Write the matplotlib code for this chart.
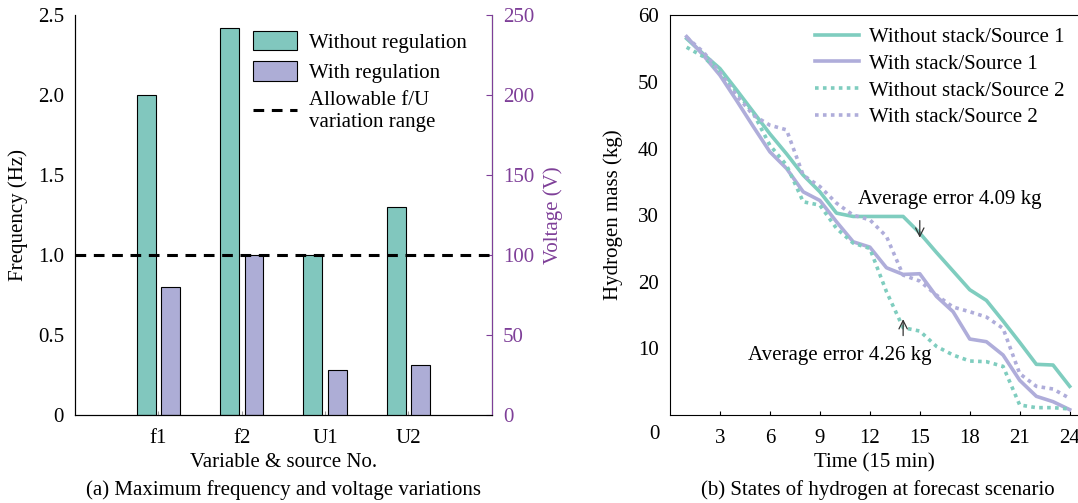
import matplotlib
matplotlib.use("Agg")
import matplotlib.pyplot as plt
import numpy as np

plt.rcParams["font.family"] = ["Liberation Serif", "DejaVu Serif"]
plt.rcParams["font.size"] = 15

TEAL = "#81C7BE"
PURPLE = "#ADADD6"
TEAL_LINE = "#7FCDBF"
PURPLE_LINE = "#AFADDA"
AXIS_PURPLE = "#7E3F98"

# (a) bar data
freq_cats = ["f1", "f2"]
freq_without = [2.0, 2.42]
freq_with = [0.8, 1.0]
volt_cats = ["U1", "U2"]
volt_without = [100, 130]
volt_with = [28, 31]
allowable_freq = 1.0

# (b) hydrogen mass, one point per 15 min step
steps = list(range(1, 25))
without_src1 = [56.5, 54.2, 52.0, 48.8, 45.5, 42.2, 39.2, 36.0, 33.5, 30.3,
                29.8, 29.8, 29.8, 29.8, 27.3, 24.4, 21.6, 18.8, 17.2, 14.1,
                10.9, 7.6, 7.5, 4.3]
with_src1 = [56.8, 54.0, 51.0, 47.2, 43.3, 39.5, 37.0, 33.5, 32.2, 29.0,
             26.0, 25.2, 22.1, 21.1, 21.2, 17.8, 15.5, 11.4, 11.0, 9.0,
             5.2, 2.8, 2.0, 0.8]
without_src2 = [55.2, 53.8, 51.5, 48.5, 45.3, 40.5, 37.5, 32.0, 31.5, 28.0,
                25.8, 25.0, 18.5, 13.1, 12.6, 10.3, 9.0, 8.1, 8.0, 7.3,
                1.5, 1.1, 1.1, 0.9]
with_src2 = [56.7, 54.5, 51.5, 48.0, 45.0, 43.5, 42.8, 36.0, 34.3, 31.8,
             30.0, 29.3, 26.8, 21.0, 20.1, 18.0, 16.2, 15.5, 14.7, 13.0,
             6.2, 4.3, 3.9, 2.5]
time_ticks = [3, 6, 9, 12, 15, 18, 21, 24]

fig = plt.figure(figsize=(10.78, 5.03), dpi=100)


def center_label(label):
    label.set_va("center")
    label.set_ha("center")


# ---- (a) ----
ax = fig.add_axes([0.0696, 0.175, 0.3866, 0.7946])
ax2 = ax.twinx()
w = 0.227
off = 0.147
xf = np.arange(1, len(freq_cats) + 1)
xu = np.arange(len(freq_cats) + 1, len(freq_cats) + len(volt_cats) + 1)
b1 = ax.bar(xf - off, freq_without, w, color=TEAL, edgecolor="black", linewidth=0.8,
            label="Without regulation")
b2 = ax.bar(xf + off, freq_with, w, color=PURPLE, edgecolor="black", linewidth=0.8,
            label="With regulation")
ax2.bar(xu - off, volt_without, w, color=TEAL, edgecolor="black", linewidth=0.8)
ax2.bar(xu + off, volt_with, w, color=PURPLE, edgecolor="black", linewidth=0.8)
ln = ax2.axhline(allowable_freq * 100, color="black", linestyle=(0, (3.5, 2.5)),
                 linewidth=2.2, label="Allowable f/U\nvariation range")

ax.set_xlim(0, 5)
ax.set_ylim(0, 2.5)
ax2.set_ylim(0, 250)
ax.set_xticks(list(xf) + list(xu))
ax.set_xticklabels(freq_cats + volt_cats)
ax.set_yticks([0, 0.5, 1.0, 1.5, 2.0, 2.5])
ax.set_yticklabels(["0", "0.5", "1.0", "1.5", "2.0", "2.5"])
ax2.set_yticks([0, 50, 100, 150, 200, 250])
ax.tick_params(axis="x", direction="in", length=3, color="#999999", pad=10)
ax.tick_params(axis="y", length=0, pad=8)
ax2.tick_params(axis="y", direction="in", length=4, colors=AXIS_PURPLE, pad=8)
ax2.spines["right"].set_color(AXIS_PURPLE)
ax.spines["top"].set_visible(False)
ax2.spines["top"].set_visible(False)
ax.set_ylabel("Frequency (Hz)")
ax.yaxis.set_label_coords(-0.137, 0.5)
center_label(ax.yaxis.label)
ax2.set_ylabel("Voltage (V)", color=AXIS_PURPLE)
ax2.yaxis.set_label_coords(1.147, 0.5)
center_label(ax2.yaxis.label)
ax.set_xlabel("Variable & source No.")
ax.xaxis.set_label_coords(0.5, -0.12)
center_label(ax.xaxis.label)
fig.text(283 / 1078, 0.026, "(a) Maximum frequency and voltage variations",
         ha="center", va="center")
ax2.legend(handles=[b1, b2, ln], loc="upper left", bbox_to_anchor=(0.427, 0.96),
           frameon=False, handlelength=2.1, handleheight=1.04, labelspacing=0.4,
           handletextpad=0.58, borderaxespad=0, borderpad=0)

# ---- (b) ----
bx = fig.add_axes([0.6215, 0.175, 0.3785, 0.7946])
bx.plot(steps, without_src1, color=TEAL_LINE, linewidth=2.6, label="Without stack/Source 1")
bx.plot(steps, with_src1, color=PURPLE_LINE, linewidth=2.6, label="With stack/Source 1")
bx.plot(steps, without_src2, color=TEAL_LINE, linewidth=2.6, linestyle=(0, (1, 1.2)),
        label="Without stack/Source 2")
bx.plot(steps, with_src2, color=PURPLE_LINE, linewidth=2.6, linestyle=(0, (1, 1.2)),
        label="With stack/Source 2")
bx.set_xlim(0, 24.5)
bx.set_ylim(0, 60)
bx.set_xticks(time_ticks)
bx.set_yticks([10, 20, 30, 40, 50, 60])
bx.tick_params(axis="x", direction="in", length=3, pad=10)
bx.tick_params(axis="y", length=0, pad=8)
bx.spines["right"].set_visible(False)
bx.text(-0.039, -0.05, "0", transform=bx.transAxes, ha="center", va="center")
bx.set_ylabel("Hydrogen mass (kg)")
bx.yaxis.set_label_coords(-0.14, 0.5)
center_label(bx.yaxis.label)
bx.set_xlabel("Time (15 min)")
bx.xaxis.set_label_coords(0.5, -0.12)
center_label(bx.xaxis.label)
fig.text(878 / 1078, 0.026, "(b) States of hydrogen at forecast scenario",
         ha="center", va="center")
bx.annotate("", xy=(15, 26.2), xytext=(15, 29.6),
            arrowprops=dict(arrowstyle="->", color="#333333", lw=0.9))
bx.text(11.3, 32.3, "Average error 4.09 kg", ha="left", va="center")
bx.annotate("", xy=(14, 14.8), xytext=(14, 11.5),
            arrowprops=dict(arrowstyle="->", color="#333333", lw=0.9))
bx.text(4.7, 8.9, "Average error 4.26 kg", ha="left", va="center")
bx.legend(loc="upper left", bbox_to_anchor=(0.355, 0.97), frameon=False,
          handlelength=2.1, labelspacing=0.35, handletextpad=0.5, borderaxespad=0,
          borderpad=0)

fig.savefig("out.png", dpi=100)
